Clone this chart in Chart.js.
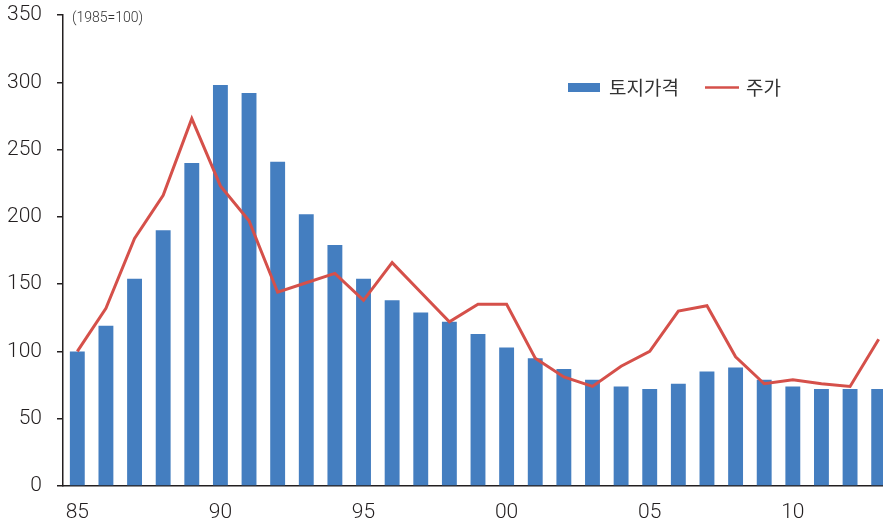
<!DOCTYPE html>
<html>
<head>
<meta charset="utf-8">
<script src="https://cdn.jsdelivr.net/npm/chart.js@4.4.0/dist/chart.umd.min.js"></script>
<style>
  html, body { margin: 0; padding: 0; background: #fff; overflow: hidden; }
  #chart { display: block; }
</style>
</head>
<body>
<canvas id="chart" width="893" height="524"></canvas>
<script>
// years 1985..2013, index 1985 = 100
const years = ['85', '86', '87', '88', '89', '90', '91', '92', '93', '94',
  '95', '96', '97', '98', '99', '00', '01', '02', '03', '04',
  '05', '06', '07', '08', '09', '10', '11', '12', '13']
const landPrice = [100, 119, 154, 190, 240, 298, 292, 241, 202, 179,
  154, 138, 129, 122, 113, 103, 95, 87, 79, 74,
  72, 76, 85, 88, 79, 74, 72, 72, 72]
const stockPrice = [100, 132, 184, 216, 273, 223, 197, 144, 151, 158,
  138, 166, 144, 122, 135, 135, 95, 81, 74, 89,
  100, 130, 134, 96, 76, 79, 76, 74, 109]
const shownTicks = ['85', '90', '95', '00', '05', '10']

const seriesNames = ['토지가격', '주가']
const colors = { bar: '#447ec0', line: '#d5504a', ink: '#231f20' }
const numFont = 'Roboto, "Liberation Sans", Arial, sans-serif'
const krFont = '"Noto Sans CJK KR", "Noto Sans", sans-serif'

// base note and the in-plot legend
const extras = {
  id: 'extras',
  afterDraw(chart) {
    const { ctx } = chart
    ctx.save()
    ctx.fillStyle = '#333'
    ctx.font = '300 14px ' + numFont
    ctx.textBaseline = 'middle'
    ctx.fillText('(1985=100)', 72, 18)

    // bar key
    ctx.fillStyle = colors.bar
    ctx.fillRect(568, 83, 32, 9)
    ctx.fillStyle = '#333'
    ctx.font = '19px ' + krFont
    ctx.fillText(seriesNames[0], 609, 88)

    // line key
    ctx.strokeStyle = colors.line
    ctx.lineWidth = 2.5
    ctx.beginPath()
    ctx.moveTo(705, 87.5)
    ctx.lineTo(739, 87.5)
    ctx.stroke()
    ctx.fillText(seriesNames[1], 746, 88)
    ctx.restore()
  }
}

const ctx = document.getElementById('chart').getContext('2d')
new Chart(ctx, {
  data: {
    labels: years,
    datasets: [
      {
        type: 'line',
        label: seriesNames[1],
        data: stockPrice,
        borderColor: colors.line,
        borderWidth: 3,
        pointRadius: 0,
        tension: 0,
        order: 0
      },
      {
        type: 'bar',
        label: seriesNames[0],
        data: landPrice,
        backgroundColor: colors.bar,
        categoryPercentage: 1,
        barPercentage: 0.52,
        order: 1
      }
    ]
  },
  options: {
    responsive: false,
    animation: false,
    layout: { padding: { top: 15, right: 0, left: 0, bottom: 0 } },
    plugins: {
      legend: { display: false },
      tooltip: { enabled: false }
    },
    scales: {
      x: {
        grid: { display: false },
        border: { display: true, color: colors.ink, width: 1.5 },
        ticks: {
          autoSkip: false,
          maxRotation: 0,
          padding: 6,
          color: colors.ink,
          font: { family: numFont, size: 21, weight: 300 },
          callback(value) {
            const lbl = this.getLabelForValue(value)
            return shownTicks.includes(lbl) ? lbl : ''
          }
        },
        afterFit(scale) { scale.height = 38 }
      },
      y: {
        min: 0,
        max: 350,
        grid: { drawOnChartArea: false, tickLength: 6, color: colors.ink, lineWidth: 1.5 },
        border: { display: true, color: colors.ink, width: 1.5 },
        ticks: {
          stepSize: 50,
          padding: 15,
          color: colors.ink,
          font: { family: numFont, size: 21, weight: 300 }
        },
        afterFit(scale) {
          scale.width = 63
          scale.paddingTop = 0
          scale.paddingBottom = 0
        }
      }
    }
  },
  plugins: [extras]
})
</script>
</body>
</html>
